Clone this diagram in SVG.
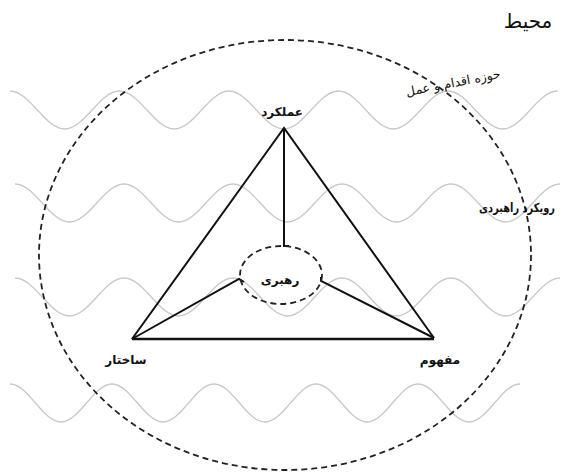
<svg xmlns="http://www.w3.org/2000/svg" width="561" height="473" viewBox="0 0 561 473">
<style>
.wave{fill:none;stroke:#c8c8c8;stroke-width:1.3}
.dash{fill:none;stroke:#222;stroke-width:1.8;stroke-dasharray:6 4}
.edge{fill:none;stroke:#111;stroke-width:2;stroke-linejoin:miter}
.lbl{font-family:"DejaVu Sans",sans-serif;font-size:12px;font-weight:bold;fill:#111;text-anchor:middle}
.note{font-family:"DejaVu Sans",sans-serif;font-size:12.5px;fill:#111;text-anchor:middle}
</style>
<rect width="561" height="473" fill="#fff"/>
<g id="waves">
<path class="wave" d="M10,91 c20,0 34.75,38 54.75,38 s34.75,-38 54.75,-38 s34.75,38 54.75,38 s34.75,-38 54.75,-38 s34.75,38 54.75,38 s34.75,-38 54.75,-38 s34.75,38 54.75,38 s34.75,-38 54.75,-38 s34.75,38 54.75,38 s34.75,-38 54.75,-38"/>
<path class="wave" d="M15,184 c20,0 34.5,38 54.5,38 s34.5,-38 54.5,-38 s34.5,38 54.5,38 s34.5,-38 54.5,-38 s34.5,38 54.5,38 s34.5,-38 54.5,-38 s34.5,38 54.5,38 s34.5,-38 54.5,-38 s34.5,38 54.5,38 s34.5,-38 54.5,-38"/>
<path class="wave" d="M15,278 c20,0 34.5,38 54.5,38 s34.5,-38 54.5,-38 s34.5,38 54.5,38 s34.5,-38 54.5,-38 s34.5,38 54.5,38 s34.5,-38 54.5,-38 s34.5,38 54.5,38 s34.5,-38 54.5,-38 s34.5,38 54.5,38 s34.5,-38 54.5,-38"/>
<path class="wave" d="M10,384 c18.6,0 32.4,38 51,38 s32.4,-38 51,-38 s32.4,38 51,38 s32.4,-38 51,-38 s32.4,38 51,38 s32.4,-38 51,-38 s32.4,38 51,38 s32.4,-38 51,-38 s32.4,38 51,38 s32.4,-38 51,-38"/>
</g>
<g id="environment">
<ellipse class="dash" cx="285" cy="255" rx="246" ry="215"/>
<text x="528" y="28" font-family="DejaVu Sans, sans-serif" font-size="20" fill="#111" text-anchor="middle">محیط</text>
</g>
<g id="action-zone">
<text class="note" transform="translate(454,87) rotate(-11)" x="0" y="0">حوزه اقدام و عمل</text>
</g>
<g id="strategy">
<text class="lbl" transform="translate(517,212) scale(0.82,1.05)" x="0" y="0">رویکرد راهبردی</text>
</g>
<g id="connectors">
<polyline class="edge" points="132,339 284,128 434,338"/>
<line class="edge" x1="132" y1="339" x2="434" y2="339" style="stroke-width:2.6"/>
<polyline class="edge" points="284,128 284,246 289,246"/>
<polyline class="edge" points="132,339 239,279 244,282"/>
<polyline class="edge" points="434,338 321,281 321,277"/>
</g>
<g id="node-performance">
<text class="lbl" x="282" y="116">عملکرد</text>
</g>
<g id="node-leadership">
<ellipse class="dash" cx="281" cy="275" rx="41" ry="29"/>
<text class="lbl" x="280" y="284">رهبری</text>
</g>
<g id="node-structure">
<text class="lbl" x="126" y="364">ساختار</text>
</g>
<g id="node-concept">
<text class="lbl" x="440" y="364">مفهوم</text>
</g>
</svg>
